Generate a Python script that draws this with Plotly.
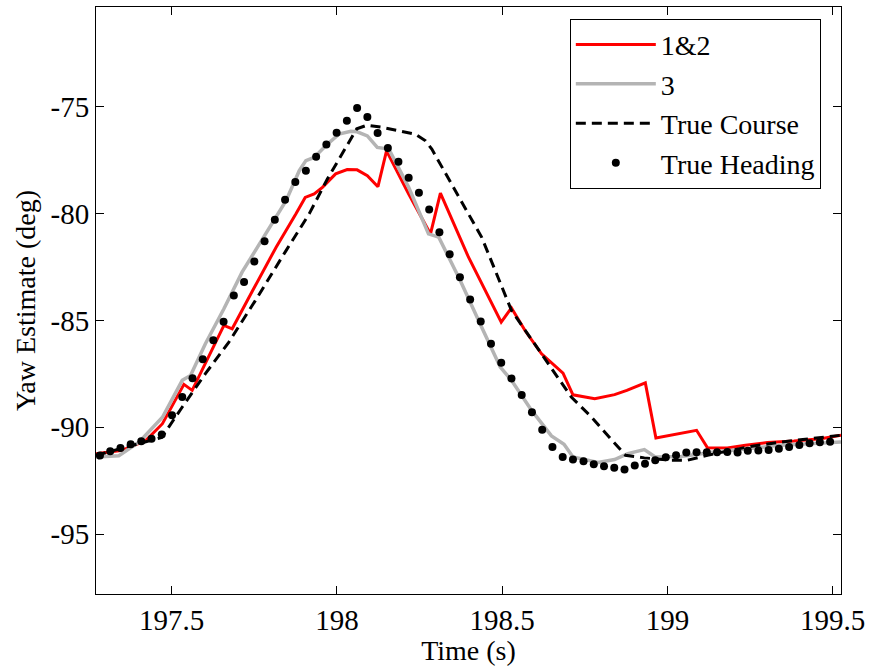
import plotly.graph_objects as go

# ---- data ----
t_red = [197.271, 197.351, 197.422, 197.472, 197.537, 197.562, 197.658, 197.683, 197.745, 197.816,
         197.876, 197.904, 197.931, 197.956, 197.996, 198.031, 198.061, 198.092, 198.124, 198.150,
         198.217, 198.283, 198.313, 198.398, 198.497, 198.528, 198.569, 198.619, 198.684, 198.714,
         198.780, 198.840, 198.877, 198.933, 198.965, 199.088, 199.121, 199.181, 199.236, 199.302,
         199.383, 199.464, 199.525]
y_red = [-91.24, -91.07, -90.61, -89.83, -87.99, -88.27, -85.23, -85.39, -83.60, -81.57,
         -80.01, -79.24, -79.08, -78.77, -78.14, -77.94, -77.95, -78.22, -78.74, -77.06,
         -79.08, -80.95, -79.04, -82.04, -85.08, -84.41, -85.47, -86.56, -87.46, -88.48,
         -88.66, -88.47, -88.27, -87.92, -90.50, -90.14, -90.96, -90.97, -90.84, -90.71,
         -90.64, -90.53, -90.37]

t_gray = [197.271, 197.340, 197.401, 197.472, 197.532, 197.557, 197.602, 197.658, 197.713, 197.785,
          197.846, 197.886, 197.906, 197.931, 197.966, 198.006, 198.042, 198.061, 198.092, 198.122,
          198.147, 198.157, 198.217, 198.277, 198.308, 198.373, 198.433, 198.494, 198.528, 198.589,
          198.649, 198.687, 198.714, 198.790, 198.840, 198.880, 198.930, 198.963, 199.041, 199.141,
          199.242, 199.342, 199.525]
y_gray = [-91.39, -91.33, -90.70, -89.53, -87.80, -87.57, -86.09, -84.45, -82.74, -80.95,
          -79.39, -77.99, -77.52, -77.37, -76.82, -76.28, -76.15, -76.17, -76.36, -76.90,
          -76.98, -76.98, -78.77, -80.95, -81.10, -83.13, -85.15, -87.18, -87.80, -89.21,
          -90.40, -90.79, -91.39, -91.64, -91.51, -91.23, -91.04, -91.39, -91.37, -91.15,
          -91.00, -90.84, -90.69]

t_course = [197.271, 197.470, 197.532, 197.602, 197.673, 197.753, 197.846, 197.916, 197.971, 198.026,
            198.060, 198.091, 198.136, 198.237, 198.268, 198.287, 198.338, 198.438, 198.528, 198.619,
            198.709, 198.770, 198.840, 198.873, 198.930, 199.011, 199.061, 199.121, 199.242, 199.342,
            199.525]
y_course = [-91.31, -90.47, -89.05, -87.49, -86.01, -84.07, -81.73, -80.01, -78.38, -76.90,
            -76.03, -75.86, -75.96, -76.28, -76.59, -76.98, -78.36, -81.11, -84.53, -86.56,
            -88.58, -89.52, -90.76, -91.31, -91.43, -91.54, -91.54, -91.31, -90.92, -90.69,
            -90.37]

t_heading = [197.283, 197.314, 197.345, 197.376, 197.408, 197.439, 197.470, 197.501, 197.532, 197.563,
             197.594, 197.626, 197.657, 197.688, 197.719, 197.750, 197.781, 197.812, 197.843, 197.874,
             197.906, 197.937, 197.968, 197.999, 198.030, 198.061, 198.092, 198.123, 198.154, 198.186,
             198.217, 198.248, 198.279, 198.310, 198.341, 198.372, 198.403, 198.435, 198.466, 198.497,
             198.528, 198.559, 198.590, 198.621, 198.652, 198.683, 198.714, 198.746, 198.777, 198.808,
             198.839, 198.870, 198.901, 198.932, 198.963, 198.995, 199.026, 199.057, 199.088, 199.119,
             199.150, 199.181, 199.212, 199.243, 199.275, 199.306, 199.337, 199.368, 199.399, 199.430,
             199.461, 199.492]
y_heading = [-91.32, -91.12, -90.97, -90.79, -90.65, -90.53, -90.34, -89.43, -88.58, -87.70,
             -86.82, -85.93, -85.06, -83.83, -83.20, -82.24, -81.29, -80.29, -79.35, -78.52,
             -77.99, -77.34, -76.76, -76.21, -75.65, -75.06, -75.48, -76.23, -76.93, -77.57,
             -78.32, -79.02, -79.81, -80.87, -81.90, -82.98, -84.02, -85.05, -86.09, -86.98,
             -87.71, -88.49, -89.30, -90.11, -90.92, -91.39, -91.50, -91.59, -91.73, -91.82,
             -91.89, -91.97, -91.79, -91.70, -91.54, -91.40, -91.31, -91.18, -91.17, -91.17,
             -91.17, -91.15, -91.18, -91.10, -91.09, -91.06, -91.00, -90.92, -90.83, -90.75,
             -90.70, -90.68]

x_tickvals = [197.5, 198, 198.5, 199, 199.5]
x_ticktext = ["197.5", "198", "198.5", "199", "199.5"]
y_tickvals = [-95, -90, -85, -80, -75]
y_ticktext = ["-95", "-90", "-85", "-80", "-75"]

FONT = "Liberation Serif"

fig = go.Figure()
fig.add_trace(go.Scatter(x=t_red, y=y_red, mode="lines", name="1&2",
                         line=dict(color="#ff0000", width=3)))
fig.add_trace(go.Scatter(x=t_gray, y=y_gray, mode="lines", name="3",
                         line=dict(color="#b4b4b4", width=3.5)))
fig.add_trace(go.Scatter(x=t_course, y=y_course, mode="lines", name="True Course",
                         line=dict(color="#000000", width=3, dash="10px,6px")))
fig.add_trace(go.Scatter(x=t_heading, y=y_heading, mode="markers", name="True Heading",
                         marker=dict(color="#000000", size=8)))

axis_common = dict(showgrid=False, zeroline=False, showline=True, linecolor="#000000",
                   linewidth=1, mirror="allticks", ticks="inside", ticklen=8,
                   tickcolor="#000000", tickfont=dict(family=FONT, size=29, color="#000000"))

fig.update_layout(
    width=871, height=666,
    margin=dict(l=96, r=27, t=6, b=72),
    paper_bgcolor="white", plot_bgcolor="white",
    font=dict(family=FONT, size=28, color="#000000"),
    xaxis=dict(range=[197.271, 199.525], tickvals=x_tickvals, ticktext=x_ticktext,
               title=dict(text="Time (s)", standoff=2, font=dict(family=FONT, size=28)),
               **axis_common),
    yaxis=dict(range=[-97.8, -70.33], tickvals=y_tickvals, ticktext=y_ticktext,
               title=dict(text="Yaw Estimate (deg)", standoff=6, font=dict(family=FONT, size=28)),
               **axis_common),
    legend=dict(x=0.636, y=0.98, xanchor="left", yanchor="top",
                bgcolor="white", bordercolor="#000000", borderwidth=1,
                font=dict(family=FONT, size=28), itemwidth=80, tracegroupgap=0),
    showlegend=True,
)

fig.write_html("out.html")
